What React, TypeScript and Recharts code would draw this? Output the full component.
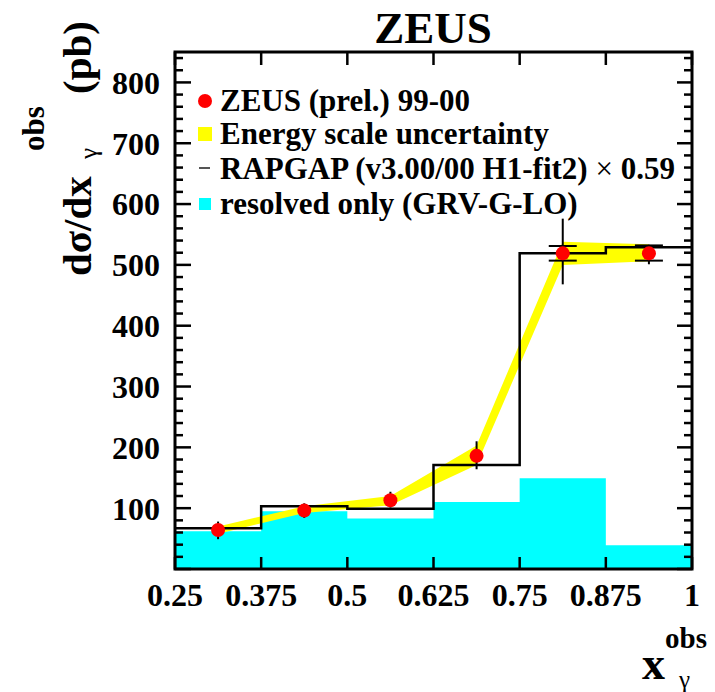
import React from "react";
import {
  ComposedChart,
  Area,
  Line,
  Scatter,
  ErrorBar,
  XAxis,
  YAxis,
} from "recharts";

// x_gamma^obs bins
const BIN_EDGES = [0.25, 0.375, 0.5, 0.625, 0.75, 0.875, 1];
const BIN_CENTERS = [0.3125, 0.4375, 0.5625, 0.6875, 0.8125, 0.9375];

// ZEUS (prel.) 99-00 cross section, pb
const ZEUS_XSEC = [64, 96, 113, 186, 519, 519];
// total uncertainty [down, up]
const ZEUS_TOT_ERR: [number, number][] = [
  [15, 14],
  [12, 12],
  [12, 14],
  [22, 24],
  [51, 57],
  [18, 14],
];
// statistical uncertainty [down, up], only where it sticks out of the marker
const ZEUS_STAT_ERR: ([number, number] | null)[] = [null, null, null, null, [12, 12], [12, 13]];

// energy scale uncertainty band
const ESCALE_LOW = [58, 92, 105, 171, 500, 506];
const ESCALE_HIGH = [70, 103, 120, 203, 538, 534];

// RAPGAP (v3.00/00 H1-fit2) x 0.59
const RAPGAP = [67, 103, 99, 171, 519, 529];
// resolved only (GRV-G-LO)
const RESOLVED = [62, 95, 83, 110, 149, 39];

const X_TICKS = BIN_EDGES;
const X_DOMAIN: [number, number] = [0.25, 1];
const Y_LABELS = [100, 200, 300, 400, 500, 600, 700, 800];
const Y_MAJOR = [0, 100, 200, 300, 400, 500, 600, 700, 800];
const Y_MINOR_STEP = 20;
const Y_DOMAIN: [number, number] = [0, 850];

const Y_MINOR: number[] = [];
for (let v = Y_DOMAIN[0]; v <= Y_DOMAIN[1]; v += Y_MINOR_STEP) Y_MINOR.push(v);

const W = 715;
const H = 692;
// plot frame in page pixels
const PLOT = { left: 175, top: 52, right: 692, bottom: 569 };
const Y_AXIS_W = 100;
const X_AXIS_H = 60;

const FONT = '"Liberation Serif", "Times New Roman", serif';
const tickFont = { fontFamily: FONT, fontWeight: "bold", fontSize: 32, fill: "#000" };

// histogram as step data: one point per lower edge, last value repeated at the upper edge
const stepData = (vals: number[]) =>
  BIN_EDGES.map((x, i) => ({ x, v: vals[Math.min(i, vals.length - 1)] }));

const resolvedData = stepData(RESOLVED);
const rapgapData = stepData(RAPGAP);
const bandData = BIN_CENTERS.map((x, i) => ({ x, band: [ESCALE_LOW[i], ESCALE_HIGH[i]] }));
const zeusData = BIN_CENTERS.map((x, i) => ({
  x,
  y: ZEUS_XSEC[i],
  tot: ZEUS_TOT_ERR[i],
  stat: ZEUS_STAT_ERR[i] ?? undefined,
}));

const Dot = (p: any) => <circle cx={p.cx} cy={p.cy} r={7} fill="#ff0000" />;

// axis value -> frame pixel, used only for the frame's tick marks
const px = (v: number) =>
  PLOT.left + ((v - X_DOMAIN[0]) / (X_DOMAIN[1] - X_DOMAIN[0])) * (PLOT.right - PLOT.left);
const py = (v: number) =>
  PLOT.bottom - ((v - Y_DOMAIN[0]) / (Y_DOMAIN[1] - Y_DOMAIN[0])) * (PLOT.bottom - PLOT.top);

// frame and inward ticks, drawn on top of the filled histograms
function Frame() {
  const s = { stroke: "#000", strokeWidth: 2.5 };
  return (
    <g>
      {Y_MINOR.map((v) => {
        const major = Y_MAJOR.includes(v);
        const y = py(v);
        return (
          <g key={`y${v}`}>
            <line x1={PLOT.left} x2={PLOT.left + (major ? 16 : 8)} y1={y} y2={y} {...s} />
            <line x1={PLOT.right} x2={PLOT.right - (major ? 15 : 8)} y1={y} y2={y} {...s} />
          </g>
        );
      })}
      {X_TICKS.map((v) => {
        const x = px(v);
        return (
          <g key={`x${v}`}>
            <line x1={x} x2={x} y1={PLOT.bottom} y2={PLOT.bottom - 12} {...s} />
            <line x1={x} x2={x} y1={PLOT.top} y2={PLOT.top + 13} {...s} />
          </g>
        );
      })}
      <rect
        x={PLOT.left}
        y={PLOT.top}
        width={PLOT.right - PLOT.left}
        height={PLOT.bottom - PLOT.top}
        fill="none"
        stroke="#000"
        strokeWidth={3}
      />
    </g>
  );
}

function Overlay() {
  const legendText = { fontFamily: FONT, fontWeight: "bold" as const, fontSize: 31, fill: "#000" };
  return (
    <svg
      width={W}
      height={H}
      style={{ position: "absolute", left: 0, top: 0, pointerEvents: "none" }}
    >
      <Frame />

      <text x={433} y={43} textAnchor="middle" fontFamily={FONT} fontWeight="bold" fontSize={45}>
        ZEUS
      </text>

      {/* legend */}
      <circle cx={205} cy={101} r={7} fill="#ff0000" />
      <text x={220} y={111} {...legendText}>ZEUS (prel.) 99-00</text>
      <rect x={198} y={127} width={14} height={14} fill="#ffff00" />
      <text x={220} y={144} {...legendText}>Energy scale uncertainty</text>
      <line x1={199} x2={210} y1={168} y2={168} stroke="#555" strokeWidth={2} />
      <text x={220} y={179} {...legendText}>
        RAPGAP (v3.00/00 H1-fit2) <tspan fontWeight="normal">×</tspan> 0.59
      </text>
      <rect x={199} y={198} width={12} height={12} fill="#00ffff" />
      <text x={220} y={214} {...legendText}>resolved only (GRV-G-LO)</text>

      {/* y title: dσ/dx^obs_γ (pb) */}
      <g transform="translate(91,276) rotate(-90)" fontFamily={FONT} fill="#000">
        <text x={0} y={0} fontSize={41} fontWeight="bold">dσ/dx</text>
        <text x={125} y={-47} fontSize={31} fontWeight="bold">obs</text>
        <text x={117} y={6} fontSize={25}>γ</text>
        <text x={182} y={0} fontSize={41} fontWeight="bold">(pb)</text>
      </g>

      {/* x title: x_γ^obs */}
      <g fontFamily={FONT} fill="#000">
        <text x={642} y={679} fontSize={46} fontWeight="bold">x</text>
        <text x={665} y={648} fontSize={29} fontWeight="bold">obs</text>
        <text x={679} y={688} fontSize={25}>γ</text>
      </g>
    </svg>
  );
}

export default function App() {
  return (
    <div style={{ position: "absolute", left: 0, top: 0, width: W, height: H, background: "#fff" }}>
      <ComposedChart
        width={W}
        height={H}
        margin={{
          top: PLOT.top,
          right: W - PLOT.right,
          bottom: H - PLOT.bottom - X_AXIS_H,
          left: PLOT.left - Y_AXIS_W,
        }}
      >
        <Area
          data={resolvedData}
          dataKey="v"
          type="stepAfter"
          fill="#00ffff"
          fillOpacity={1}
          stroke="none"
          isAnimationActive={false}
        />
        <Area
          data={bandData}
          dataKey="band"
          type="linear"
          fill="#ffff00"
          fillOpacity={1}
          stroke="none"
          isAnimationActive={false}
        />
        <Line
          data={rapgapData}
          dataKey="v"
          type="stepAfter"
          stroke="#000"
          strokeWidth={2.5}
          dot={false}
          isAnimationActive={false}
        />
        <Scatter data={zeusData} dataKey="y" shape={Dot} isAnimationActive={false}>
          <ErrorBar dataKey="tot" direction="y" width={0} stroke="#000" strokeWidth={2} />
          <ErrorBar dataKey="stat" direction="y" width={14} stroke="#000" strokeWidth={2} />
        </Scatter>

        <XAxis
          dataKey="x"
          type="number"
          domain={X_DOMAIN}
          ticks={X_TICKS}
          interval={0}
          tickLine={false}
          tickSize={0}
          tickMargin={14}
          height={X_AXIS_H}
          axisLine={false}
          tick={tickFont}
        />
        <YAxis
          type="number"
          domain={Y_DOMAIN}
          ticks={Y_LABELS}
          interval={0}
          tickLine={false}
          tickSize={0}
          tickMargin={15}
          width={Y_AXIS_W}
          axisLine={false}
          tick={tickFont}
        />
      </ComposedChart>
      <Overlay />
    </div>
  );
}
